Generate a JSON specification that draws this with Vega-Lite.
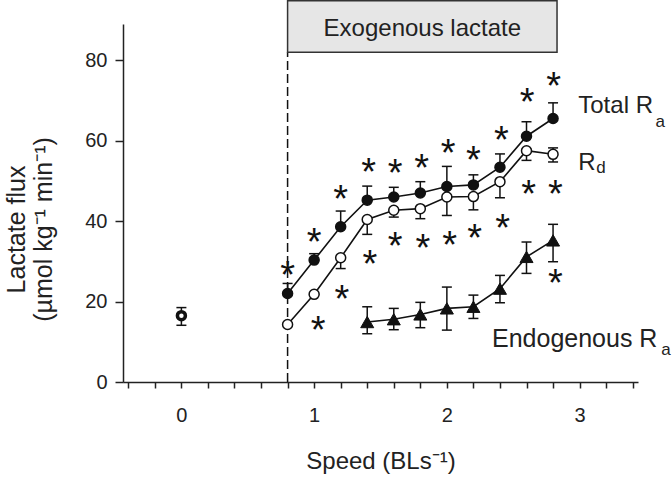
{
  "$schema": "https://vega.github.io/schema/vega-lite/v6.json",
  "width": 515,
  "height": 358,
  "autosize": {"type": "none"},
  "padding": {"left": 123, "top": 24, "right": 34, "bottom": 99},
  "background": "white",
  "config": {
    "view": {"stroke": null},
    "font": "Liberation Sans",
    "axis": {
      "grid": false,
      "domainColor": "#222",
      "tickColor": "#222",
      "labelColor": "#222",
      "titleColor": "#222",
      "domainWidth": 1.5,
      "tickWidth": 1.5,
      "labelFont": "Liberation Sans",
      "titleFont": "Liberation Sans",
      "titleFontWeight": "normal"
    }
  },
  "datasets": {
    "flux": [
      {"series": "Total", "speed": 0.8, "flux": 22.0, "lo": 22.0, "hi": 24.5},
      {"series": "Total", "speed": 1.0, "flux": 30.3, "lo": 30.3, "hi": 31.9},
      {"series": "Total", "speed": 1.2, "flux": 38.6, "lo": 38.6, "hi": 42.5},
      {"series": "Total", "speed": 1.4, "flux": 45.2, "lo": 45.2, "hi": 48.7},
      {"series": "Total", "speed": 1.6, "flux": 46.0, "lo": 46.0, "hi": 48.4},
      {"series": "Total", "speed": 1.8, "flux": 47.0, "lo": 47.0, "hi": 49.8},
      {"series": "Total", "speed": 2.0, "flux": 48.6, "lo": 48.6, "hi": 53.6},
      {"series": "Total", "speed": 2.2, "flux": 49.0, "lo": 49.0, "hi": 51.5},
      {"series": "Total", "speed": 2.4, "flux": 53.4, "lo": 53.4, "hi": 56.7},
      {"series": "Total", "speed": 2.6, "flux": 61.1, "lo": 61.1, "hi": 64.7},
      {"series": "Total", "speed": 2.8, "flux": 65.5, "lo": 65.5, "hi": 69.4},
      {"series": "Rd", "speed": 0.8, "flux": 14.3, "lo": 14.3, "hi": 14.3},
      {"series": "Rd", "speed": 1.0, "flux": 21.8, "lo": 21.8, "hi": 21.8},
      {"series": "Rd", "speed": 1.2, "flux": 30.9, "lo": 28.2, "hi": 30.9},
      {"series": "Rd", "speed": 1.4, "flux": 40.4, "lo": 36.7, "hi": 40.4},
      {"series": "Rd", "speed": 1.6, "flux": 42.7, "lo": 41.0, "hi": 42.7},
      {"series": "Rd", "speed": 1.8, "flux": 43.1, "lo": 40.6, "hi": 43.1},
      {"series": "Rd", "speed": 2.0, "flux": 46.0, "lo": 41.4, "hi": 46.0},
      {"series": "Rd", "speed": 2.2, "flux": 46.1, "lo": 42.8, "hi": 46.1},
      {"series": "Rd", "speed": 2.4, "flux": 49.8, "lo": 45.8, "hi": 49.8},
      {"series": "Rd", "speed": 2.6, "flux": 57.5, "lo": 55.1, "hi": 57.5},
      {"series": "Rd", "speed": 2.8, "flux": 56.6, "lo": 54.7, "hi": 58.2},
      {"series": "Endo", "speed": 1.4, "flux": 14.9, "lo": 12.0, "hi": 18.7},
      {"series": "Endo", "speed": 1.6, "flux": 15.6, "lo": 13.0, "hi": 18.3},
      {"series": "Endo", "speed": 1.8, "flux": 16.8, "lo": 13.5, "hi": 19.8},
      {"series": "Endo", "speed": 2.0, "flux": 18.3, "lo": 12.9, "hi": 23.6},
      {"series": "Endo", "speed": 2.2, "flux": 18.7, "lo": 15.8, "hi": 21.6},
      {"series": "Endo", "speed": 2.4, "flux": 23.2, "lo": 19.7, "hi": 26.5},
      {"series": "Endo", "speed": 2.6, "flux": 31.1, "lo": 27.0, "hi": 34.8},
      {"series": "Endo", "speed": 2.8, "flux": 35.2, "lo": 29.9, "hi": 39.2}
    ],
    "rest": [
      {"speed": 0, "flux": 16.5, "lo": 14.1, "hi": 18.5}
    ],
    "stars": [
      {"speed": 0.8, "flux": 28.6},
      {"speed": 1.0, "flux": 36.7},
      {"speed": 1.2, "flux": 47.5},
      {"speed": 1.41, "flux": 54.2},
      {"speed": 1.61, "flux": 53.9},
      {"speed": 1.81, "flux": 55.3},
      {"speed": 2.01, "flux": 58.9},
      {"speed": 2.2, "flux": 57.1},
      {"speed": 2.41, "flux": 62.2},
      {"speed": 2.604, "flux": 71.7},
      {"speed": 2.805, "flux": 75.5},
      {"speed": 1.03, "flux": 14.9},
      {"speed": 1.21, "flux": 22.6},
      {"speed": 1.42, "flux": 31.3},
      {"speed": 1.61, "flux": 35.7},
      {"speed": 1.82, "flux": 35.4},
      {"speed": 2.02, "flux": 36.1},
      {"speed": 2.21, "flux": 37.8},
      {"speed": 2.42, "flux": 40.3},
      {"speed": 2.616, "flux": 48.7},
      {"speed": 2.818, "flux": 48.7},
      {"speed": 2.818, "flux": 26.5}
    ],
    "box": [
      {"speed": 0.8, "speed2": 2.83, "flux": 82.0, "flux2": 94.8, "mid": 1.815, "texty": 86.0, "label": "Exogenous lactate"}
    ],
    "onset": [
      {"speed": 0.8, "flux": 0, "flux2": 82.0}
    ],
    "labels": [
      {"speed": 2.99, "flux": 66.9, "text": "Total R"},
      {"speed": 2.99, "flux": 52.7, "text": "R"}
    ],
    "labelsEndo": [
      {"speed": 2.34, "flux": 8.77, "text": "Endogenous R"}
    ],
    "subs": [
      {"speed": 3.572, "flux": 63.3, "text": "a"},
      {"speed": 3.125, "flux": 51.9, "text": "d"},
      {"speed": 3.615, "flux": 6.7, "text": "a"}
    ]
  },
  "encoding": {
    "x": {
      "field": "speed",
      "type": "quantitative",
      "scale": {"domain": [-0.44, 3.44], "nice": false, "zero": false},
      "axis": {
        "title": "Speed (BLs⁻¹)",
        "values": [-0.4, -0.2, 0, 0.2, 0.4, 0.6, 0.8, 1, 1.2, 1.4, 1.6, 1.8, 2, 2.2, 2.4, 2.6, 2.8, 3, 3.2, 3.4],
        "labelExpr": "datum.value % 1 === 0 ? format(datum.value, 'd') : ''",
        "labelOverlap": false,
        "labelFlush": false,
        "tickSize": 6,
        "labelPadding": 17,
        "labelFontSize": 20,
        "titleFontSize": 24,
        "titleBaseline": "alphabetic",
        "titleY": 86
      }
    },
    "y": {
      "field": "flux",
      "type": "quantitative",
      "scale": {"domain": [0, 89], "nice": false, "zero": false},
      "axis": {
        "title": ["Lactate flux", "(µmol kg⁻¹ min⁻¹)"],
        "values": [0, 20, 40, 60, 80],
        "tickSize": 8,
        "labelPadding": 8,
        "labelFontSize": 20,
        "titleFontSize": 25,
        "titleLineHeight": 27,
        "titleAngle": -90,
        "titleAlign": "center",
        "titleBaseline": "bottom",
        "titleX": -94,
        "titleY": 205
      }
    }
  },
  "layer": [
    {
      "data": {"name": "onset"},
      "mark": {"type": "rule", "color": "#111", "strokeWidth": 1.5, "strokeDash": [9, 4]},
      "encoding": {
        "y2": {"field": "flux2"}
      }
    },
    {
      "data": {"name": "box"},
      "mark": {"type": "rect", "fill": "#e6e6e6", "stroke": "#333", "strokeWidth": 1.5, "clip": false},
      "encoding": {
        "x2": {"field": "speed2"},
        "y2": {"field": "flux2"}
      }
    },
    {
      "data": {"name": "box"},
      "mark": {"type": "text", "fontSize": 24, "align": "center", "baseline": "alphabetic", "color": "#222", "font": "Liberation Sans", "text": {"expr": "datum.label"}},
      "encoding": {
        "x": {"field": "mid", "type": "quantitative"},
        "y": {"field": "texty", "type": "quantitative"}
      }
    },
    {
      "data": {"name": "flux"},
      "mark": {"type": "line", "color": "#111", "strokeWidth": 1.6},
      "encoding": {
        "detail": {"field": "series"}
      }
    },
    {
      "data": {"name": "flux"},
      "mark": {"type": "rule", "color": "#111", "strokeWidth": 1.5},
      "encoding": {
        "y": {"field": "lo", "type": "quantitative"},
        "y2": {"field": "hi"}
      }
    },
    {
      "data": {"name": "flux"},
      "mark": {"type": "tick", "orient": "horizontal", "size": 10, "thickness": 1.5, "color": "#111", "opacity": 1},
      "encoding": {
        "y": {"field": "lo", "type": "quantitative"}
      }
    },
    {
      "data": {"name": "flux"},
      "mark": {"type": "tick", "orient": "horizontal", "size": 10, "thickness": 1.5, "color": "#111", "opacity": 1},
      "encoding": {
        "y": {"field": "hi", "type": "quantitative"}
      }
    },
    {
      "data": {"name": "rest"},
      "mark": {"type": "rule", "color": "#111", "strokeWidth": 1.5},
      "encoding": {
        "y": {"field": "lo", "type": "quantitative"},
        "y2": {"field": "hi"}
      }
    },
    {
      "data": {"name": "rest"},
      "mark": {"type": "tick", "orient": "horizontal", "size": 10, "thickness": 1.5, "color": "#111", "opacity": 1},
      "encoding": {
        "y": {"field": "lo", "type": "quantitative"}
      }
    },
    {
      "data": {"name": "rest"},
      "mark": {"type": "tick", "orient": "horizontal", "size": 10, "thickness": 1.5, "color": "#111", "opacity": 1},
      "encoding": {
        "y": {"field": "hi", "type": "quantitative"}
      }
    },
    {
      "data": {"name": "rest"},
      "mark": {"type": "point", "shape": "circle", "size": 64, "fill": "white", "stroke": "#111", "strokeWidth": 3.5, "opacity": 1}
    },
    {
      "data": {"name": "flux"},
      "transform": [{"filter": "datum.series === 'Total'"}],
      "mark": {"type": "point", "shape": "circle", "size": 100, "fill": "#111", "stroke": "#111", "strokeWidth": 1.5, "opacity": 1}
    },
    {
      "data": {"name": "flux"},
      "transform": [{"filter": "datum.series === 'Rd'"}],
      "mark": {"type": "point", "shape": "circle", "size": 100, "fill": "white", "stroke": "#111", "strokeWidth": 1.5, "opacity": 1}
    },
    {
      "data": {"name": "flux"},
      "transform": [{"filter": "datum.series === 'Endo'"}],
      "mark": {"type": "point", "shape": "triangle-up", "size": 170, "fill": "#111", "stroke": "#111", "strokeWidth": 1, "opacity": 1}
    },
    {
      "data": {"name": "stars"},
      "mark": {"type": "text", "text": "*", "fontSize": 38, "dy": 21, "align": "center", "baseline": "alphabetic", "color": "#111", "font": "Liberation Sans"}
    },
    {
      "data": {"name": "labels"},
      "mark": {"type": "text", "fontSize": 24, "align": "left", "baseline": "alphabetic", "color": "#222", "font": "Liberation Sans", "text": {"expr": "datum.text"}}
    },
    {
      "data": {"name": "labelsEndo"},
      "mark": {"type": "text", "fontSize": 25, "align": "left", "baseline": "alphabetic", "color": "#222", "font": "Liberation Sans", "text": {"expr": "datum.text"}}
    },
    {
      "data": {"name": "subs"},
      "mark": {"type": "text", "fontSize": 17, "align": "left", "baseline": "alphabetic", "color": "#222", "font": "Liberation Sans", "text": {"expr": "datum.text"}}
    }
  ]
}
